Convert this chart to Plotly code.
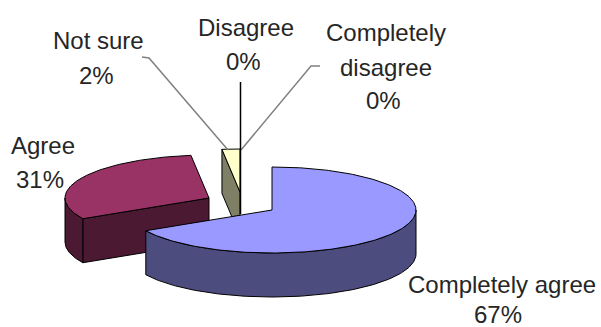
import numpy as np
import plotly.graph_objects as go

# Survey answers, in clockwise order from twelve o'clock
categories = ["Completely agree", "Agree", "Not sure", "Disagree", "Completely disagree"]
percent = [67, 31, 2, 0, 0]
top_colors = ["#9999FF", "#993366", "#FFFFCC", "#660066", "#FF8080"]
side_colors = ["#4C4C7F", "#4C1933", "#7F7F66", "#330033", "#7F4040"]

# Projected pie geometry, in page pixels
RX, RY, DEPTH = 144, 43, 44
APEX = {"Completely agree": (272, 210), "Agree": (209, 198), "Not sure": (240, 192)}

# Label lines: (text, x, y) centres
LABEL_LINES = {
    "Completely agree": [("Completely agree", 502, 284), (None, 498, 314)],
    "Agree": [("Agree", 43, 145), (None, 40, 179)],
    "Not sure": [("Not sure", 98, 40), (None, 96, 75)],
    "Disagree": [("Disagree", 246, 27), (None, 243, 61)],
    "Completely disagree": [("Completely", 386, 32), ("disagree", 386, 67), (None, 383, 100)],
}
LEADERS = [
    {"x": [142, 149, 228], "y": [57, 58, 150], "color": "#808080", "width": 1.5},
    {"x": [320, 311, 241], "y": [66, 66, 150], "color": "#808080", "width": 1.5},
    {"x": [240.5, 240.5], "y": [82, 214], "color": "#000000", "width": 1.5},
]


def rim(cx, cy, a0, a1, drop=0.0):
    """Points on the projected rim between two clockwise angles (degrees from top)."""
    t = np.radians(np.linspace(a0, a1, max(int(abs(a1 - a0)), 2) + 1))
    return cx + RX * np.sin(t), cy - RY * np.cos(t) + drop


def poly(x, y, color, line="#000000", width=1.0):
    return go.Scatter(
        x=np.append(x, x[0]), y=np.append(y, y[0]), mode="lines", fill="toself",
        fillcolor=color, line=dict(color=line, width=width), hoverinfo="skip", showlegend=False,
    )


def slice_traces(index, start, end):
    name = categories[index]
    cx, cy = APEX[name]
    traces = []
    # Cut face along the slice's first edge, seen when that edge points left
    sx, sy = rim(cx, cy, start, start)
    if 180 < start < 360:
        traces.append(poly(
            np.array([sx[0], cx, cx, sx[0]]), np.array([sy[0], cy, cy + DEPTH, sy[0] + DEPTH]),
            side_colors[index]))
    # Outer wall: the part of the rim facing the viewer
    w0, w1 = max(start, 90), min(end, 270)
    if w1 > w0:
        tx, ty = rim(cx, cy, w0, w1)
        bx, by = rim(cx, cy, w1, w0, DEPTH)
        traces.append(poly(np.concatenate([tx, bx]), np.concatenate([ty, by]), side_colors[index]))
    # Top face
    ax, ay = rim(cx, cy, start, end)
    traces.append(poly(np.append(ax, cx), np.append(ay, cy), top_colors[index]))
    return traces


edges = np.concatenate([[0], np.cumsum(percent)]) * 3.6
# Painter's order: back slices first, the largest slice last
parts = {i: slice_traces(i, edges[i], edges[i + 1]) for i in range(3)}

fig = go.Figure()
for trace in parts[2]:
    fig.add_trace(trace)
for trace in parts[1]:
    fig.add_trace(trace)
for leader in LEADERS:
    fig.add_trace(go.Scatter(
        x=leader["x"], y=leader["y"], mode="lines", hoverinfo="skip", showlegend=False,
        line=dict(color=leader["color"], width=leader["width"]),
    ))
for trace in parts[0]:
    fig.add_trace(trace)

for name, value in zip(categories, percent):
    for text, x, y in LABEL_LINES[name]:
        fig.add_annotation(
            x=x, y=y, xref="x", yref="y", showarrow=False, xanchor="center", yanchor="middle",
            text=text if text else f"{value}%",
            font=dict(family="Liberation Sans", size=24, color="#262626"),
        )

fig.update_xaxes(range=[0, 601], visible=False, fixedrange=True)
fig.update_yaxes(range=[327, 0], visible=False, fixedrange=True)
fig.update_layout(
    width=601, height=327, margin=dict(l=0, r=0, t=0, b=0),
    paper_bgcolor="white", plot_bgcolor="white", showlegend=False,
)
fig.write_html("out.html", config={"displayModeBar": False})
